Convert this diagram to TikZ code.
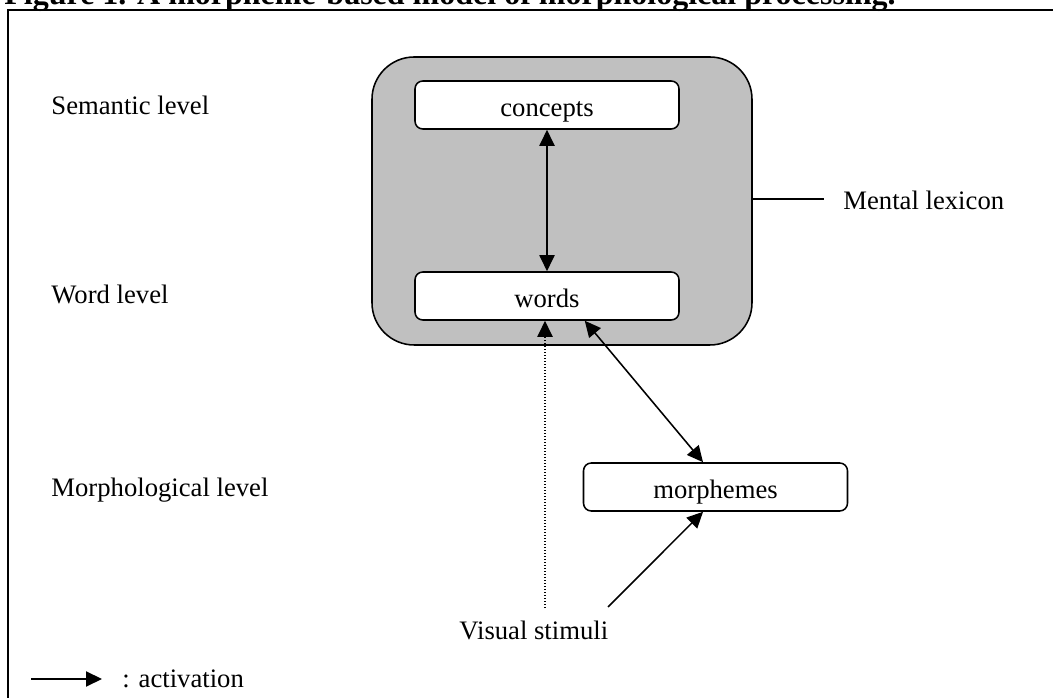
\documentclass[tikz,border=0pt]{standalone}
\usepackage{fontspec}
\setmainfont{Liberation Serif}
\usetikzlibrary{arrows.meta}
\definecolor{lexgray}{RGB}{192,192,192}

\begin{document}
\begin{tikzpicture}[x=0.45pt,y=-0.45pt,
    every node/.style={font=\fontsize{12}{14.4}\selectfont},
    box/.style={draw,line width=0.7pt,fill=white,rounded corners=3.5pt,
      minimum width=118.8pt,minimum height=21.6pt,inner sep=0pt,
      text height=11.5pt,text depth=0.8pt},
    lab/.style={inner sep=0pt,anchor=base west},
    act/.style={line width=0.7pt,-{Triangle[length=7.2pt,width=6.8pt]}},
    biact/.style={line width=0.7pt,{Triangle[length=7.2pt,width=6.8pt]}-{Triangle[length=7.2pt,width=6.8pt]}}]
  \useasboundingbox (0,0) rectangle (1053,698);
  \fill[white] (0,0) rectangle (1053,698);

  % title and frame
  \node[lab,font=\fontsize{14.4}{17}\selectfont\bfseries] (title) at (4,5) {Figure 1. A morpheme-based model of morphological processing.};
  \draw[line width=0.9pt] (8,720) |- (1080,10);

  % levels
  \node[lab] (semantic) at (51,115) {Semantic level};
  \node[lab] (wordlev) at (51,304) {Word level};
  \node[lab] (morphlev) at (51,497) {Morphological level};

  % mental lexicon
  \node[draw,line width=0.7pt,fill=lexgray,rounded corners=19pt,
    minimum width=171pt,minimum height=129.6pt] (lexicon) at (562,201) {};
  \coordinate (lexend) at (824,199);
  \draw[line width=0.7pt] (lexicon.east |- lexend) -- (lexend);
  \node[lab] (lexname) at (843,210) {Mental lexicon};

  \node[box] (concepts) at (547,105) {concepts};
  \node[box] (words) at (547,296) {words};
  \node[box] (morphemes) at (715.5,487) {morphemes};

  % input
  \node[lab] (stimuli) at (459,640) {Visual stimuli};
  \coordinate (dotstart) at (545,608);
  \coordinate (linestart) at (608,607);

  \draw[biact] (concepts.south) -- (words.north);
  \draw[biact] ([xshift=17pt]words.south) -- ([xshift=-5.6pt]morphemes.north);
  \draw[act,dash pattern=on 0.6pt off 0.75pt] (dotstart) -- (dotstart |- words.south);
  \draw[act] (linestart) -- ([xshift=-5.6pt]morphemes.south);

  % legend
  \coordinate (legstart) at (31,679);
  \coordinate (legend end) at (102,679);
  \draw[act] (legstart) -- (legend end);
  \node[lab] (legend) at (122,688) {: activation};
\end{tikzpicture}
\end{document}
